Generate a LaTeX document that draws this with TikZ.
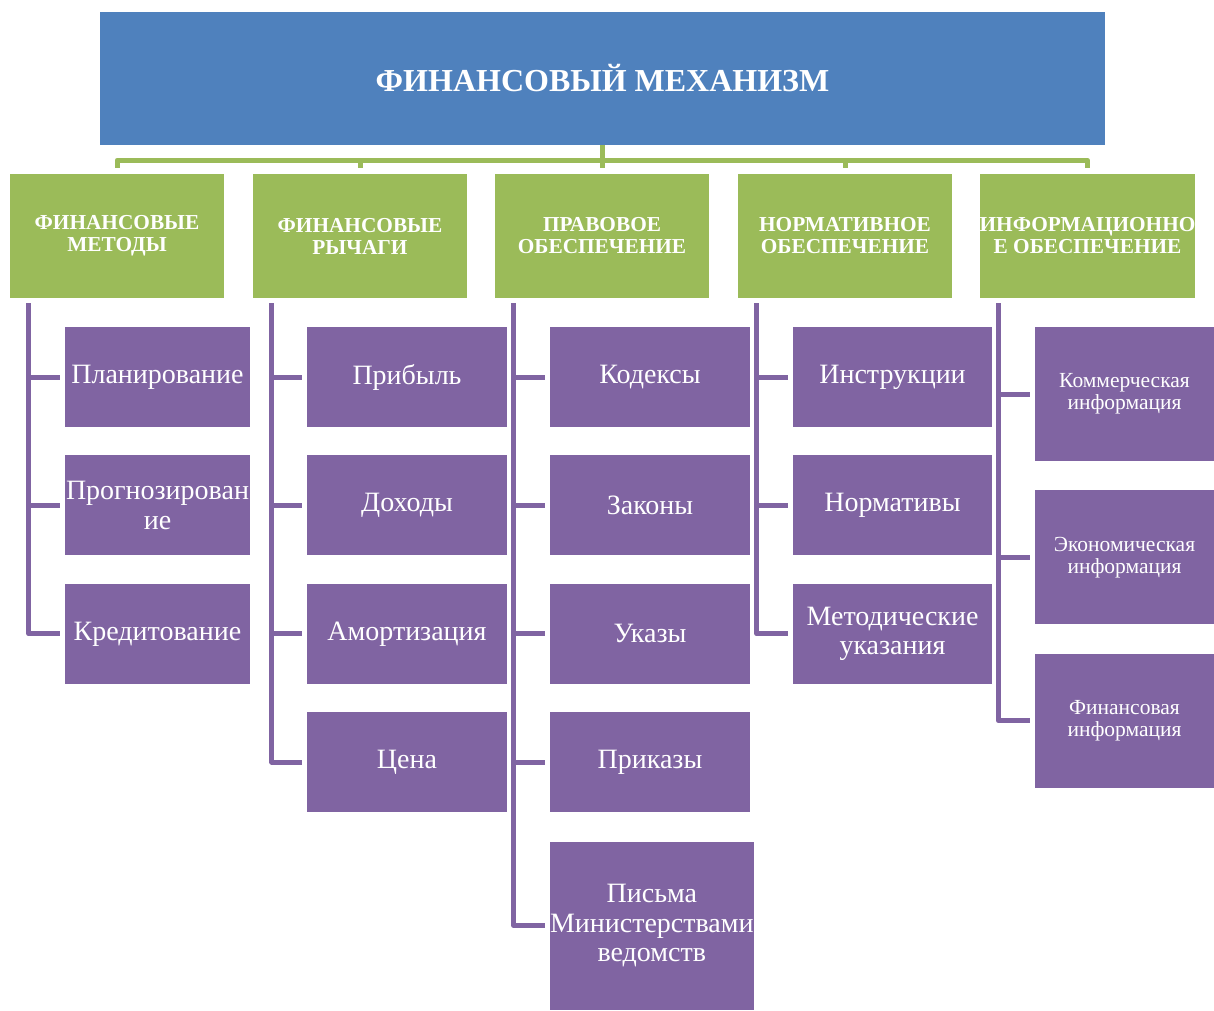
\documentclass[tikz,border=0pt]{standalone}
\usepackage{fontspec}
\setmainfont{Liberation Serif}
\usetikzlibrary{positioning}
\definecolor{l1}{RGB}{79,129,189}
\definecolor{l2}{RGB}{155,187,89}
\definecolor{l3}{RGB}{128,100,162}

\begin{document}
\begin{tikzpicture}[
    x=1pt, y=-1pt,
    every node/.style={
        align=center, inner sep=0, text=white
    },
    head/.style={
        fill=l1, minimum width=1005pt, minimum height=133pt,
        font=\fontsize{32}{36}\selectfont\bfseries
    },
    cat/.style={
        fill=l2, minimum width=214pt, minimum height=124pt,
        font=\fontsize{21.3}{22}\selectfont\bfseries
    },
    leaf/.style={
        fill=l3, minimum width=200pt, minimum height=100pt,
        font=\fontsize{28}{29.5}\selectfont
    },
    leafs/.style={
        leaf, minimum width=179pt, minimum height=134pt,
        font=\fontsize{21.5}{22}\selectfont
    },
    gline/.style={draw=l2, line width=5pt, line join=round},
    pline/.style={draw=l3, line width=5pt, line join=round}
]
    \useasboundingbox (0,0) rectangle (1214,1010);

    \node[head] (head) at (602.5,78.5) {ФИНАНСОВЫЙ МЕХАНИЗМ};

    \node[cat] (methods) at (117,236) {ФИНАНСОВЫЕ\\МЕТОДЫ};
    \node[cat] (levers) at (360,236) {ФИНАНСОВЫЕ\\РЫЧАГИ};
    \node[cat] (legal) at (602,236) {ПРАВОВОЕ\\ОБЕСПЕЧЕНИЕ};
    \node[cat] (norms) at (845,236) {НОРМАТИВНОЕ\\ОБЕСПЕЧЕНИЕ};
    \node[cat] (info) at (1087.5,236) {ИНФОРМАЦИОННО\\Е ОБЕСПЕЧЕНИЕ};

    % methods
    \node[leaf,minimum width=185pt] (plan) at (157.5,377) {Планирование};
    \node[leaf,minimum width=185pt,below=28pt of plan] (forecast) {Прогнозирован\\ие};
    \node[leaf,minimum width=185pt,below=28pt of forecast] (credit) {Кредитование};

    % levers
    \node[leaf] (profit) at (407,377) {Прибыль};
    \node[leaf,below=28pt of profit] (income) {Доходы};
    \node[leaf,below=28pt of income] (amort) {Амортизация};
    \node[leaf,below=28pt of amort] (price) {Цена};

    % legal
    \node[leaf] (codes) at (650,377) {Кодексы};
    \node[leaf,below=28pt of codes] (laws) {Законы};
    \node[leaf,below=28pt of laws] (decrees) {Указы};
    \node[leaf,below=28pt of decrees] (orders) {Приказы};
    \node[leaf,minimum width=202pt,minimum height=168pt,below=29pt of orders.south west,anchor=north west]
        (letters) {Письма\\Министерствами\\ведомств};

    % norms
    \node[leaf,minimum width=199pt] (instr) at (892.5,377) {Инструкции};
    \node[leaf,minimum width=199pt,below=28pt of instr] (stand) {Нормативы};
    \node[leaf,minimum width=199pt,below=28pt of stand] (guide) {Методические\\указания};

    % info
    \node[leafs] (comm) at (1124.5,394) {Коммерческая\\информация};
    \node[leafs,below=29pt of comm] (econ) {Экономическая\\информация};
    \node[leafs,below=29pt of econ] (fin) {Финансовая\\информация};

    \foreach \c in {methods,levers,legal,norms,info}
        \draw[gline] (head.south) -- ++(0,15) -| ([yshift=6pt]\c.north);

    \foreach \p/\k in {methods/plan, methods/forecast, methods/credit,
                       levers/profit, levers/income, levers/amort, levers/price,
                       legal/codes, legal/laws, legal/decrees, legal/orders, legal/letters,
                       norms/instr, norms/stand, norms/guide,
                       info/comm, info/econ, info/fin}
        \draw[pline] ([xshift=19pt,yshift=-5pt]\p.south west) |- ([xshift=-5pt]\k.west);

\end{tikzpicture}
\end{document}
